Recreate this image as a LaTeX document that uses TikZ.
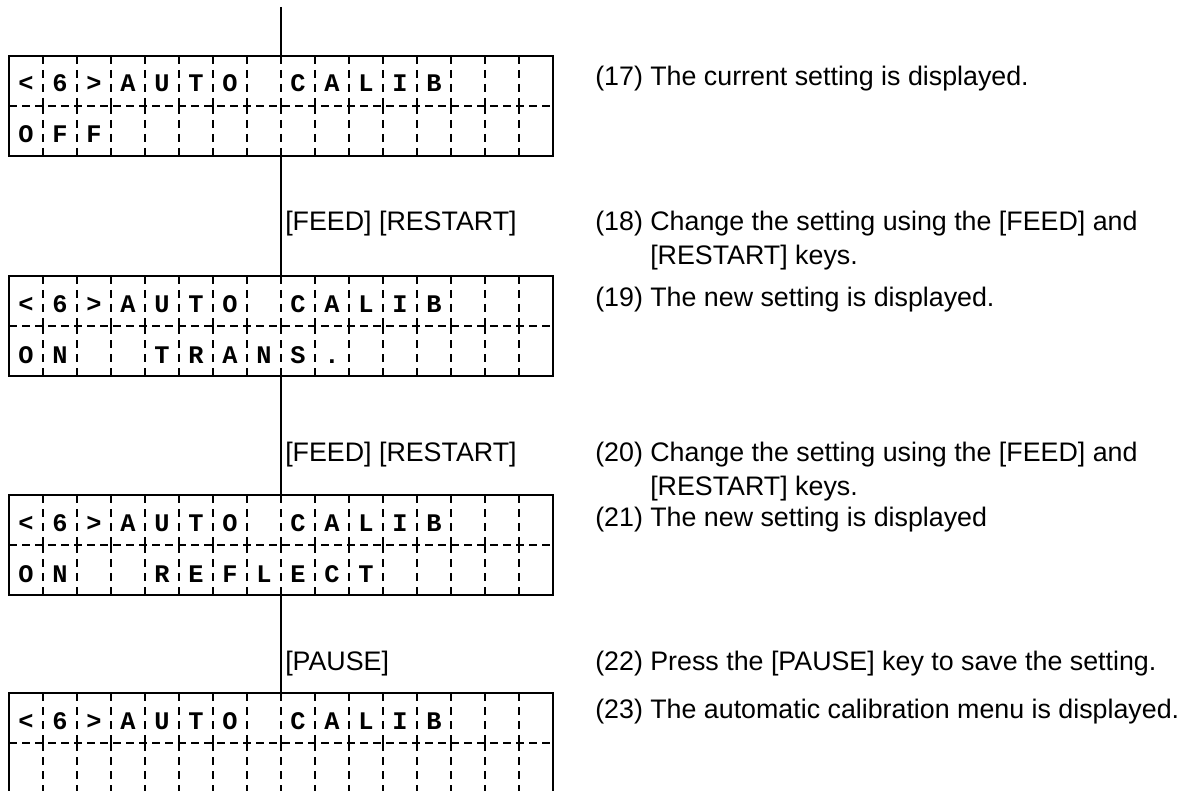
\documentclass[tikz,border=0pt]{standalone}
\usepackage{fontspec}
\setmainfont{Liberation Sans}
\newfontfamily\lcdfont{Liberation Mono}
\begin{document}
\begin{tikzpicture}[x=0.75pt,y=-0.75pt,
  lcdframe/.style={draw=black,line width=1.8pt,minimum width=408pt,minimum height=75pt,inner sep=0pt,outer sep=0pt},
  celldiv/.style={line width=1.6pt,dash pattern=on 6pt off 4.5pt},
  middiv/.style={line width=1.6pt,dash pattern=on 6pt off 3.75pt},
  lcdchar/.style={anchor=base,inner sep=0pt,font=\lcdfont\bfseries\fontsize{19}{21}\selectfont},
  keylabel/.style={anchor=base west,inner sep=0pt,font=\fontsize{20.1}{24}\selectfont},
  stepnote/.style={anchor=base west,inner sep=0pt,font=\fontsize{20.1}{24}\selectfont},
  flow/.style={line width=1.5pt}]
\useasboundingbox (0,0) rectangle (1187,791);
\clip (0,0) rectangle (1187,791);

% LCD frames (left 9, width 544, height 100)
\foreach \n/\t in {1/56,2/276,3/495,4/693}{
  \node[lcdframe,anchor=north west] (lcd\n) at (9,\t) {};
  \foreach \i in {1,...,15}{
    \draw[celldiv] (9+34*\i,\t) -- (9+34*\i,\t+50);
    \draw[celldiv] (9+34*\i,\t+50) -- (9+34*\i,\t+100);
  }
  \draw[middiv] (9,\t+50) -- (553,\t+50);
  \foreach \c [count=\k] in {<,6,>,A,U,T,O,{},C,A,L,I,B}
    \node[lcdchar] at (34*\k-8,\t+36) {\c};
}
% second rows
\foreach \c [count=\k] in {O,F,F}
  \node[lcdchar] at (34*\k-8,56+87) {\c};
\foreach \c [count=\k] in {O,N,{},{},T,R,A,N,S,.}
  \node[lcdchar] at (34*\k-8,276+87) {\c};
\foreach \c [count=\k] in {O,N,{},{},R,E,F,L,E,C,T}
  \node[lcdchar] at (34*\k-8,495+87) {\c};

% connectors
\coordinate (start) at (281,7);
\draw[flow] (start) -- (lcd1.north);
\draw[flow] (lcd1.south) -- (lcd2.north);
\draw[flow] (lcd2.south) -- (lcd3.north);
\draw[flow] (lcd3.south) -- (lcd4.north);

% key labels
\node[keylabel] (k1) at (285,231) {[FEED] [RESTART]};
\node[keylabel] (k2) at (285,461) {[FEED] [RESTART]};
\node[keylabel] (k3) at (285,670) {[PAUSE]};

% step notes
\node[stepnote] (s17) at (595,86) {(17) The current setting is displayed.};
\node[stepnote] (s18) at (595,231) {(18) Change the setting using the [FEED] and};
\node[stepnote] (s18b) at (650,265) {[RESTART] keys.};
\node[stepnote] (s19) at (595,306) {(19) The new setting is displayed.};
\node[stepnote] (s20) at (595,461) {(20) Change the setting using the [FEED] and};
\node[stepnote] (s20b) at (650,495) {[RESTART] keys.};
\node[stepnote] (s21) at (595,526) {(21) The new setting is displayed};
\node[stepnote] (s22) at (595,670) {(22) Press the [PAUSE] key to save the setting.};
\node[stepnote] (s23) at (595,718) {(23) The automatic calibration menu is displayed.};
\end{tikzpicture}
\end{document}
